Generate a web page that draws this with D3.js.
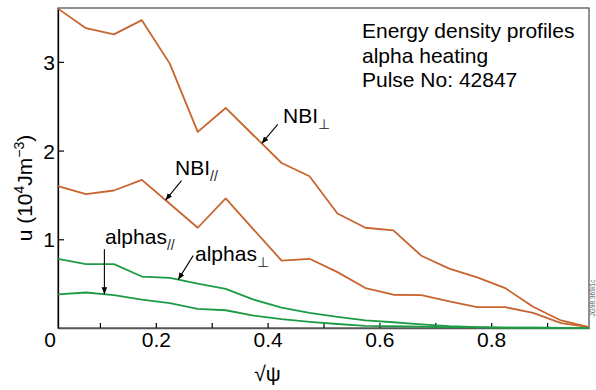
<!DOCTYPE html>
<html>
<head>
<meta charset="utf-8">
<script src="https://cdn.jsdelivr.net/npm/d3@7"></script>
<style>
  html, body { margin: 0; padding: 0; background: #fff; }
  svg { display: block; }
  text { font-family: "Liberation Sans", Arial, Helvetica, sans-serif; }
</style>
</head>
<body>
<svg id="chart" width="596" height="390"></svg>
<script>
// ---- data ----
const sqrtPsi = [0.025,0.075,0.125,0.175,0.225,0.275,0.325,0.375,0.425,0.475,
                 0.525,0.575,0.625,0.675,0.725,0.775,0.825,0.875,0.925,0.975];
const nbiPerp = [3.60,3.38,3.31,3.47,2.98,2.21,2.48,2.17,1.86,1.71,
                 1.29,1.13,1.10,0.815,0.67,0.57,0.45,0.24,0.085,0.01];
const nbiPar  = [1.60,1.51,1.55,1.67,1.40,1.13,1.46,1.11,0.76,0.78,
                 0.63,0.45,0.375,0.37,0.30,0.235,0.235,0.17,0.055,0.01];
const alphaPerp = [0.78,0.72,0.72,0.58,0.565,0.50,0.44,0.32,0.23,0.17,
                   0.125,0.085,0.065,0.04,0.02,0.01,0.005,0.003,0.001,0];
const alphaPar  = [0.38,0.40,0.37,0.32,0.28,0.215,0.20,0.14,0.10,0.07,
                   0.045,0.025,0.02,0.015,0.01,0.008,0.005,0.003,0.001,0];
const xTicks = [0.1,0.2,0.3,0.4,0.5,0.6,0.7,0.8,0.9];
const xTickLabels = {0.2:"0.2",0.4:"0.4",0.6:"0.6",0.8:"0.8"};
const yTicks = [1,2,3];
const infoLines = ["Energy density profiles","alpha heating","Pulse No: 42847"];

// ---- layout ----
const svg = d3.select("#chart");
const L = 58, R = 589, T = 8, B = 328;
const x = d3.scaleLinear().domain([0.025, 0.975]).range([L, R]);
const y = d3.scaleLinear().domain([0, 3.607]).range([B, T]);
const orange = "#c8642f", green = "#1e9b45";

// frame
svg.append("rect").attr("x", L).attr("y", T).attr("width", R - L).attr("height", B - T)
  .attr("fill", "none").attr("stroke", "#555").attr("stroke-width", 1.3);

// x axis (inward ticks)
const xAxis = d3.axisBottom(x).tickValues(xTicks).tickSizeInner(-5).tickSizeOuter(0)
  .tickFormat(d => xTickLabels[d] || "");
const gx = svg.append("g").attr("transform", `translate(0,${B})`).call(xAxis);
gx.select(".domain").attr("stroke", "#555").attr("stroke-width", 1.3);
gx.selectAll(".tick line").attr("stroke", "#000").attr("stroke-width", 1.2);
gx.selectAll(".tick text").attr("font-size", 21).attr("fill", "#000")
  .attr("font-family", "Liberation Sans, Arial, sans-serif").attr("dy", "0").attr("y", 19);
// origin label
svg.append("text").attr("x", x(0) + 6).attr("y", B + 19).attr("text-anchor", "middle")
  .attr("font-size", 21).text("0");

// y axis (inward ticks)
const yAxis = d3.axisLeft(y).tickValues(yTicks).tickSizeInner(-6).tickSizeOuter(0).tickFormat(d3.format("d"));
const gy = svg.append("g").attr("transform", `translate(${L},0)`).call(yAxis);
gy.select(".domain").attr("stroke", "#000").attr("stroke-width", 1.3);
gy.selectAll(".tick line").attr("stroke", "#000").attr("stroke-width", 1.2);
gy.selectAll(".tick text").attr("font-size", 21).attr("fill", "#000")
  .attr("font-family", "Liberation Sans, Arial, sans-serif").attr("x", -3).attr("dy", "0.36em");

// axis titles
const yt = svg.append("text").attr("transform", `translate(32,${188}) rotate(-90)`)
  .attr("text-anchor", "middle").attr("font-size", 21);
yt.append("tspan").text("u (10");
yt.append("tspan").attr("font-size", 14).attr("dy", -8).text("4");
yt.append("tspan").attr("dy", 8).text("Jm");
yt.append("tspan").attr("font-size", 14).attr("dy", -8).text("\u22123");
yt.append("tspan").attr("dy", 8).text(")");

svg.append("text").attr("x", x(0.4)).attr("y", 381).attr("text-anchor", "middle")
  .attr("font-size", 21).text("\u221A\u03C8");

// lines
const series = [
  {v: nbiPerp, c: orange}, {v: nbiPar, c: orange},
  {v: alphaPerp, c: green}, {v: alphaPar, c: green}
];
const line = d3.line().x((d, i) => x(sqrtPsi[i])).y(d => y(d));
series.forEach(s => {
  svg.append("path").datum(s.v).attr("d", line).attr("fill", "none")
    .attr("stroke", s.c).attr("stroke-width", 1.8).attr("stroke-linejoin", "round");
});

// info text
infoLines.forEach((t, i) => {
  svg.append("text").attr("x", 362).attr("y", 38 + i * 24.5).attr("font-size", 21).text(t);
});

// arrowhead marker
svg.append("defs").append("marker").attr("id", "ah").attr("viewBox", "0 0 10 10")
  .attr("refX", 10).attr("refY", 5).attr("markerWidth", 7).attr("markerHeight", 7)
  .attr("markerUnits", "userSpaceOnUse").attr("orient", "auto")
  .append("path").attr("d", "M0,1 L10,5 L0,9 Z").attr("fill", "#000");

function interp(vals, xv) { return d3.scaleLinear().domain(sqrtPsi).range(vals)(xv); }

const notes = [
  {vals: nbiPerp, at: 0.3895, tail: [16, -19], text: [283, 123], main: "NBI", sub: "\u22A5"},
  {vals: nbiPar, at: 0.2174, tail: [16, -19.5], text: [175, 175], main: "NBI", sub: "//"},
  {vals: alphaPar, at: 0.108, tail: [0, -45], text: [105, 244], main: "alphas", sub: "//"},
  {vals: alphaPerp, at: 0.240, tail: [15, -24], text: [195, 261], main: "alphas", sub: "\u22A5"}
];
notes.forEach(n => {
  const tx = x(n.at), ty = y(interp(n.vals, n.at));
  svg.append("line").attr("x1", tx + n.tail[0]).attr("y1", ty + n.tail[1])
    .attr("x2", tx).attr("y2", ty).attr("stroke", "#000").attr("stroke-width", 1.1)
    .attr("marker-end", "url(#ah)");
  const t = svg.append("text").attr("x", n.text[0]).attr("y", n.text[1]).attr("font-size", 21);
  t.append("tspan").text(n.main);
  t.append("tspan").attr("font-size", 14).attr("dy", 6).attr("fill", "#222").text(n.sub);
});

// side code
svg.append("text").attr("transform", "translate(594.5,298) rotate(-90)")
  .attr("text-anchor", "middle").attr("font-size", 6.5).attr("fill", "#555").text("JG98.369/1c");
</script>
</body>
</html>
